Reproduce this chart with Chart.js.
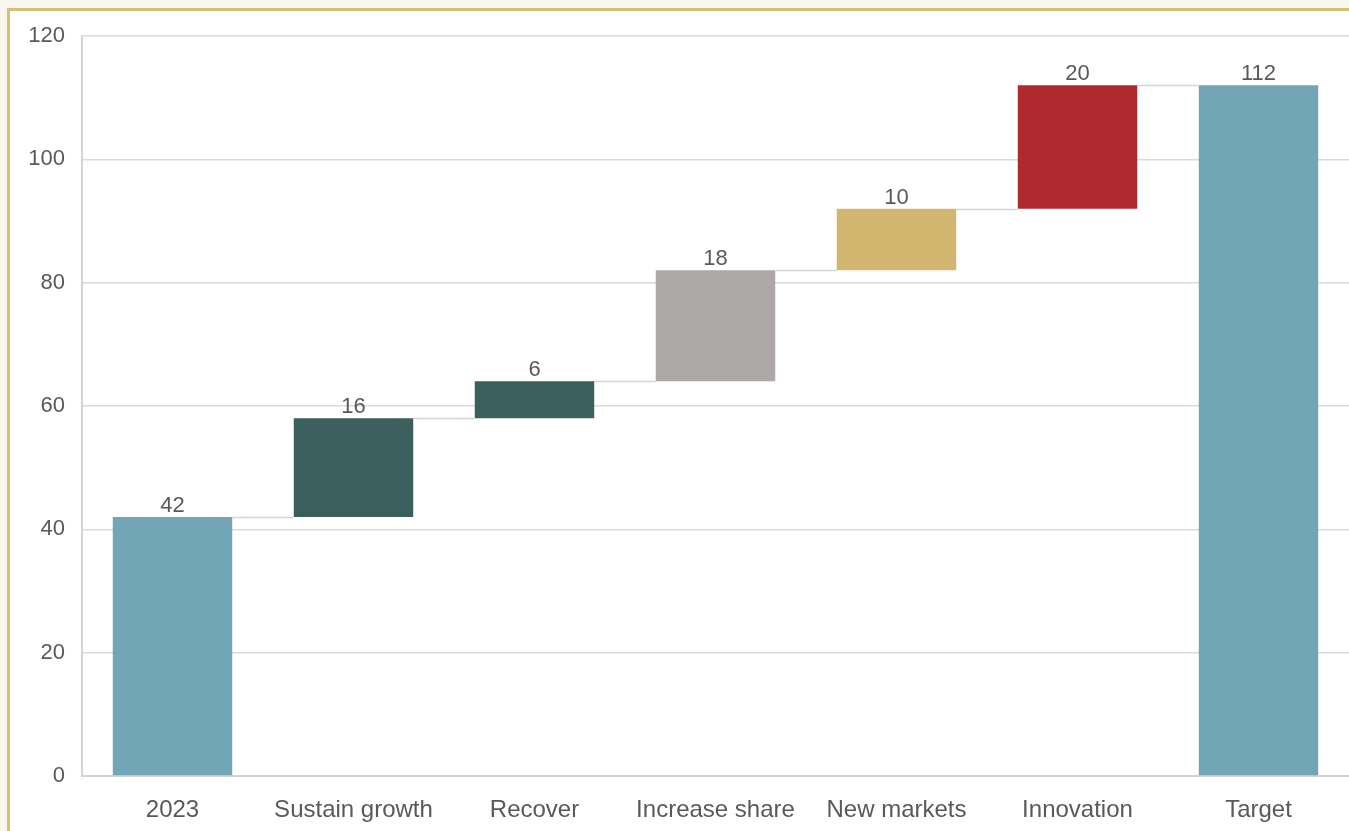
<!DOCTYPE html>
<html>
<head>
<meta charset="utf-8">
<script src="https://cdn.jsdelivr.net/npm/chart.js@4.4.1/dist/chart.umd.min.js"></script>
<style>
  html, body { margin: 0; padding: 0; background: #f9f6ee; overflow: hidden; }
  .panel {
    position: absolute; left: 7px; top: 8px; width: 1400px; height: 900px;
    background: #fff; border: 3px solid #d8bf78;
  }
  .wrap { position: absolute; left: 0; top: 0; width: 1349px; height: 831px; }
</style>
</head>
<body>
<div class="panel"></div>
<div class="wrap"><canvas id="waterfall"></canvas></div>
<script>
// Waterfall — path from 2023 to target
const categories = ['2023', 'Sustain growth', 'Recover', 'Increase share', 'New markets', 'Innovation', 'Target'];
const changes    = [42, 16, 6, 18, 10, 20, 112];
const isTotal    = [true, false, false, false, false, false, true];
const barColors  = ['#72a6b7', '#3a5f5d', '#3a5f5d', '#ada9a8', '#d1b66f', '#b0292e', '#72a6b7'];
const yTicks     = [0, 20, 40, 60, 80, 100, 120];

// floating [start, end] ranges built from the changes
let running = 0;
const ranges = changes.map((v, i) => {
    if (isTotal[i]) { running = v; return [0, v]; }
    const r = [running, running + v];
    running += v;
    return r;
});

const textColor = '#595959';
const family = '"Liberation Sans", Arial, sans-serif';
const valueFont = { family: family, size: 22 };
const catFont = { family: family, size: 24 };

// thin connectors between consecutive bars + value labels on top
const waterfallDecor = {
    id: 'waterfallDecor',
    afterDatasetsDraw(chart) {
        const { ctx, scales: { y } } = chart;
        const bars = chart.getDatasetMeta(0).data;
        ctx.save();
        ctx.strokeStyle = '#d4d4d4';
        ctx.lineWidth = 1.5;
        for (let i = 0; i < bars.length - 1; i++) {
            const a = bars[i], b = bars[i + 1];
            const yy = Math.round(y.getPixelForValue(ranges[i][1])) + 0.5;
            ctx.beginPath();
            ctx.moveTo(a.x + a.width / 2, yy);
            ctx.lineTo(b.x - b.width / 2, yy);
            ctx.stroke();
        }
        ctx.fillStyle = textColor;
        ctx.font = valueFont.size + 'px ' + family;
        ctx.textAlign = 'center';
        ctx.textBaseline = 'alphabetic';
        bars.forEach((bar, i) => {
            const top = y.getPixelForValue(ranges[i][1]);
            ctx.fillText(String(changes[i]), bar.x, top - 5);
        });
        ctx.restore();
    }
};

new Chart(document.getElementById('waterfall'), {
    type: 'bar',
    data: {
        labels: categories,
        datasets: [{
            data: ranges,
            backgroundColor: barColors,
            borderWidth: 0,
            borderSkipped: false,
            categoryPercentage: 1,
            barPercentage: 0.66
        }]
    },
    options: {
        responsive: true,
        maintainAspectRatio: false,
        animation: false,
        layout: { padding: { top: 36, right: 0, left: 0, bottom: 0 } },
        plugins: { legend: { display: false }, tooltip: { enabled: false } },
        scales: {
            x: {
                grid: { display: false },
                border: { color: '#d4d4d4', width: 2 },
                ticks: { color: textColor, font: catFont, padding: 12, maxRotation: 0 },
                afterFit(scale) { scale.height = 55; }
            },
            y: {
                min: 0,
                max: 120,
                afterBuildTicks(scale) { scale.ticks = yTicks.map(v => ({ value: v })); },
                grid: { color: '#dadada', lineWidth: 1.5, drawTicks: false },
                border: { color: '#d4d4d4', width: 2 },
                ticks: { color: textColor, font: valueFont, padding: 17 },
                afterFit(scale) { scale.width = 82; }
            }
        }
    },
    plugins: [waterfallDecor]
});
</script>
</body>
</html>
